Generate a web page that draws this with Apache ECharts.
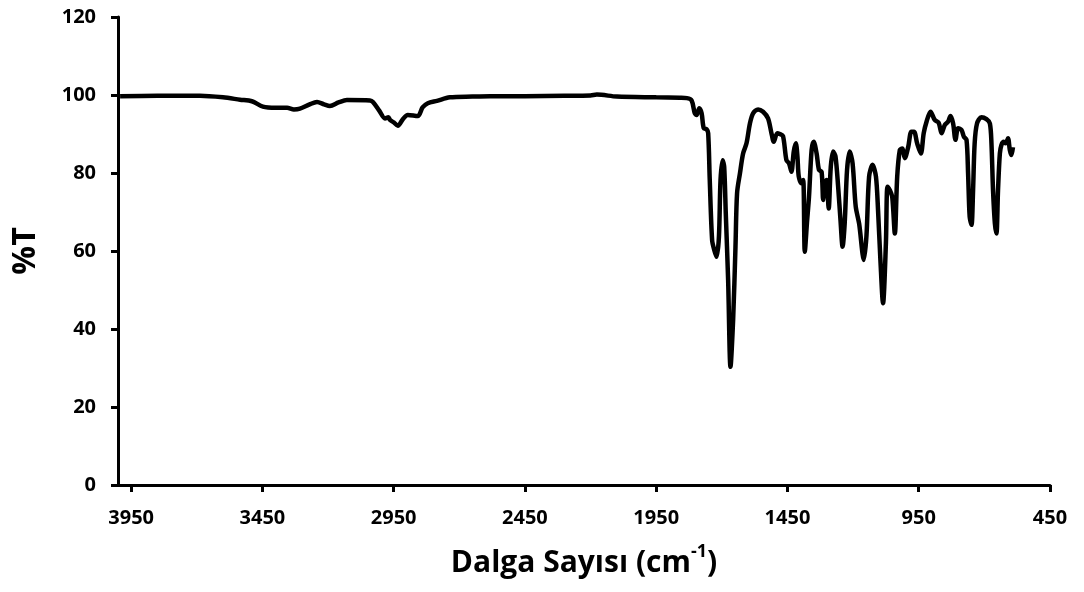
<!DOCTYPE html>
<html>
<head>
<meta charset="utf-8">
<script src="https://cdn.jsdelivr.net/npm/echarts@6/dist/echarts.min.js"></script>
<style>
  html, body { margin: 0; padding: 0; background: #fff; }
  #chart-ir { width: 1084px; height: 592px; }
</style>
</head>
<body>
<div id="chart-ir"></div>
<script>
// wavenumber (cm-1) from left to right
const waveNumbers = [
  3992, 3850, 3688, 3600, 3535, 3490, 3448, 3400, 3356, 3330, 3307, 3270, 3242, 3215, 3193, 3160, 3128,
  3040, 3029, 3005, 2983, 2970, 2964, 2950, 2934, 2915, 2896, 2858, 2840, 2820, 2785, 2736, 2650, 2583,
  2450, 2300, 2200, 2176, 2100, 1950, 1860, 1833, 1815, 1803, 1796, 1786, 1777, 1769, 1758, 1752, 1746,
  1737, 1729, 1720, 1711, 1705, 1697, 1691, 1685, 1676, 1667, 1657, 1648, 1642, 1631, 1619, 1606, 1593,
  1581, 1562, 1543, 1524, 1511, 1502, 1489, 1479, 1467, 1454, 1444, 1435, 1426, 1418, 1412, 1407, 1397,
  1390, 1384, 1375, 1368, 1358, 1350, 1339, 1330, 1320, 1314, 1308, 1301, 1293, 1285, 1276, 1267, 1257,
  1248, 1240, 1232, 1223, 1213, 1202, 1190, 1177, 1159, 1149, 1139, 1126, 1113, 1105, 1096, 1086, 1075,
  1069, 1060, 1051, 1041, 1032, 1022, 1013, 1003, 990, 978, 968, 956, 942, 931, 920, 905, 889, 874, 863,
  851, 838, 829, 819, 810, 800, 787, 778, 768, 762, 756, 749, 743, 737, 728, 711, 692, 679, 673, 667, 660,
  654, 648, 641, 635, 626, 619, 610, 603, 597, 591
];
// %T at each wavenumber
const transmittance = [
  99.7, 99.8, 99.8, 99.4, 98.8, 98.4, 97.0, 96.7, 96.7, 96.3, 96.5, 97.6, 98.2, 97.6, 97.2, 98.1, 98.7,
  98.6, 98.2, 96.0, 94.0, 94.3, 93.6, 93.0, 92.1, 93.8, 94.9, 94.6, 96.8, 97.9, 98.5, 99.4, 99.6, 99.7,
  99.7, 99.8, 99.9, 100.1, 99.6, 99.4, 99.3, 99.2, 98.6, 95.3, 94.9, 96.6, 95.3, 91.5, 91.2, 90.2, 78.2,
  62.8, 60.3, 58.5, 63.7, 78.2, 83.3, 81.6, 69.7, 52.6, 30.3, 42.3, 61.1, 74.8, 79.9, 85.0, 87.6, 92.7,
  95.3, 96.3, 95.7, 94.0, 90.2, 88.0, 90.2, 90.0, 89.5, 83.3, 82.5, 80.3, 85.5, 87.6, 84.2, 79.1, 77.4,
  78.2, 59.8, 67.9, 73.9, 85.9, 88.0, 85.0, 80.8, 80.3, 73.1, 77.4, 78.2, 70.9, 81.6, 85.5, 84.2, 76.5,
  67.9, 61.1, 67.1, 80.8, 85.5, 82.5, 71.4, 67.0, 57.7, 64.0, 79.1, 82.1, 79.1, 70.5, 57.7, 46.6, 62.0,
  76.5, 75.6, 73.9, 64.5, 79.1, 85.9, 86.3, 83.8, 86.7, 90.6, 90.6, 87.6, 85.0, 90.2, 93.2, 95.7, 93.6, 92.9, 90.2,
  92.3, 93.2, 94.6, 92.7, 88.5, 91.5, 91.0, 89.3, 88.5, 79.9, 68.8, 66.7, 75.6, 87.6, 92.7, 94.3, 93.8, 92.7, 87.6, 75.6, 67.1,
  64.5, 75.6, 85.0, 87.2, 88.0, 87.6, 88.9, 85.9, 84.6, 86.6
];
const xTicks = [3950, 3450, 2950, 2450, 1950, 1450, 950, 450];
const yTicks = [0, 20, 40, 60, 80, 100, 120];

const fontFamily = "'Open Sans', 'Noto Sans', sans-serif";
const spectrum = waveNumbers.map((w, i) => [w, transmittance[i]]);

let myChart = echarts.init(document.getElementById("chart-ir"));
let option = {
  backgroundColor: '#fff',
  animation: false,
  grid: {
    top: 17,
    left: 118,
    right: 34,
    bottom: 107,
  },
  xAxis: {
    type: 'value',
    inverse: true,
    min: 450,
    max: 4000,
    interval: 500,
    name: '{a|Dalga Sayısı (cm}{b|-1}{a|)}',
    nameLocation: 'middle',
    nameGap: 58,
    nameTextStyle: {
      rich: {
        a: { fontFamily: fontFamily, fontWeight: 'bold', fontSize: 30, color: '#000', lineHeight: 40 },
        b: { fontFamily: fontFamily, fontWeight: 'bold', fontSize: 18, color: '#000', verticalAlign: 'top', lineHeight: 24 },
      },
    },
    axisLine: {
      onZero: false,
      lineStyle: { color: '#000', width: 3 },
    },
    axisTick: {
      customValues: xTicks,
      length: 7,
      lineStyle: { color: '#000', width: 3 },
    },
    axisLabel: {
      customValues: xTicks,
      formatter: (v) => String(v),
      margin: 23,
      color: '#000',
      fontFamily: fontFamily,
      fontWeight: 'bold',
      fontSize: 20,
    },
    splitLine: { show: false },
  },
  yAxis: {
    type: 'value',
    min: 0,
    max: 120,
    interval: 20,
    name: '%T',
    nameLocation: 'middle',
    nameGap: 76,
    nameTextStyle: {
      fontFamily: fontFamily,
      fontWeight: 'bold',
      fontSize: 32,
      color: '#000',
    },
    axisLine: {
      show: true,
      lineStyle: { color: '#000', width: 3 },
    },
    axisTick: {
      show: true,
      customValues: yTicks,
      length: 7,
      lineStyle: { color: '#000', width: 3 },
    },
    axisLabel: {
      customValues: yTicks,
      formatter: (v) => String(v),
      margin: 22,
      color: '#000',
      fontFamily: fontFamily,
      fontWeight: 'bold',
      fontSize: 20,
    },
    splitLine: { show: false },
  },
  series: [
    {
      type: 'line',
      data: spectrum,
      showSymbol: false,
      smooth: 0.3,
      lineStyle: { color: '#000', width: 4.5 },
    },
  ],
};
myChart.setOption(option);
</script>
</body>
</html>
